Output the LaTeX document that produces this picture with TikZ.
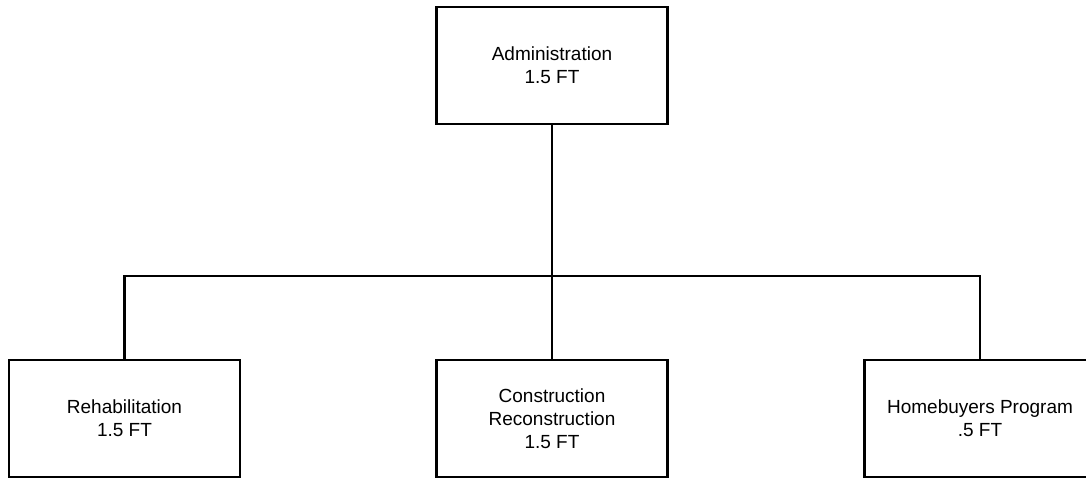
\documentclass[tikz,border=0pt]{standalone}
\usepackage{fontspec}
\setmainfont{Liberation Sans}
\begin{document}
\begin{tikzpicture}[x=1pt,y=-1pt,every node/.style={font=\fontsize{19}{23}\selectfont},
                    unita/.style={draw=black,line width=2.6pt,minimum width=231pt,minimum height=117pt,
                                  inner sep=0pt,align=center},
                    linea/.style={draw=black,line width=2.6pt}]
  \useasboundingbox (0,0) rectangle (1086,478);
  \clip (0,0) rectangle (1086,478);
  \node[unita] (admin) at (552,65.5) {Administration\\1.5 FT};
  \node[unita] (rehab) at (124.5,418.5) {Rehabilitation\\1.5 FT};
  \node[unita] (cons) at (552,418.5) {Construction\\Reconstruction\\1.5 FT};
  \node[unita] (home) at (980,418.5) {Homebuyers Program\\.5 FT};
  \coordinate (bus) at (552,276);
  \draw[linea] (admin.south) -- (cons.north);
  \draw[linea] (rehab.north) |- (bus) -| (home.north);
\end{tikzpicture}
\end{document}
